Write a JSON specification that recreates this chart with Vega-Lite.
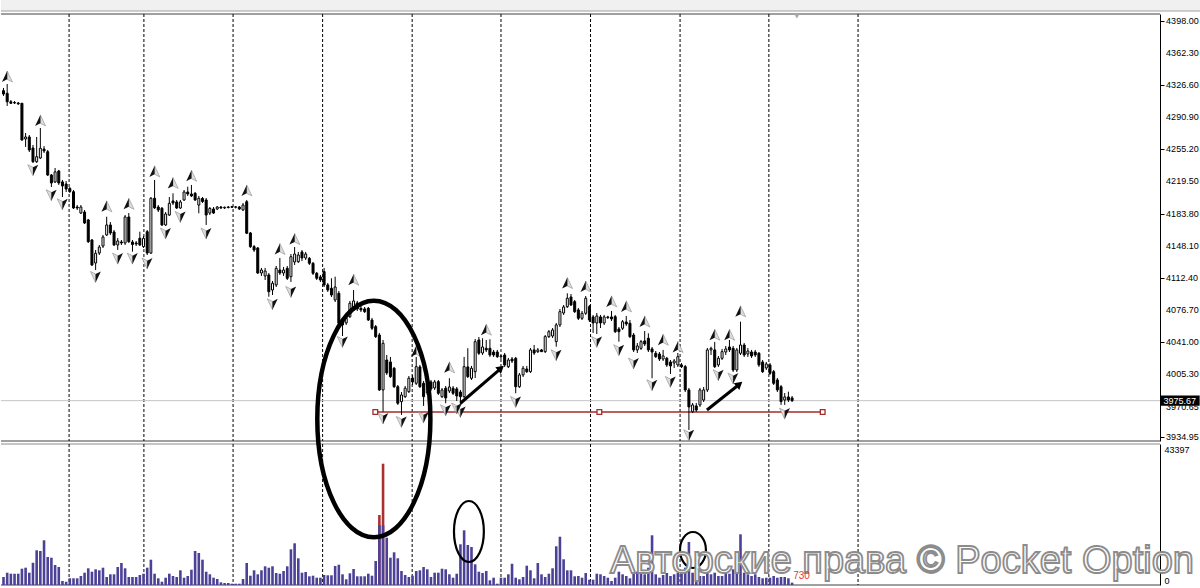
{
"$schema":"https://vega.github.io/schema/vega-lite/v6.json",
"padding":0,
"background":"white",
"spacing":3,
"bounds":"flush",
"config":{"view":{"stroke":null},"font":"Liberation Sans"},
"datasets":{
"bars":[
{"i":0,"o":4320.5,"h":4323.5,"l":4314.6,"c":4316.8,"v":2498},
{"i":1,"o":4317.6,"h":4327.9,"l":4303.5,"c":4308.2,"v":3840},
{"i":2,"o":4308.2,"h":4310.1,"l":4305.7,"c":4306.5,"v":3528},
{"i":3,"o":4307.3,"h":4309.0,"l":4305.7,"c":4306.8,"v":3528},
{"i":4,"o":4306.8,"h":4307.9,"l":4304.6,"c":4305.9,"v":3528},
{"i":5,"o":4306.5,"h":4306.8,"l":4265.1,"c":4265.6,"v":5089},
{"i":6,"o":4266.8,"h":4273.4,"l":4257.9,"c":4269.0,"v":5401},
{"i":7,"o":4269.0,"h":4271.2,"l":4252.3,"c":4254.5,"v":3840},
{"i":8,"o":4256.7,"h":4260.1,"l":4240.1,"c":4241.5,"v":6962},
{"i":9,"o":4241.5,"h":4269.0,"l":4240.1,"c":4247.1,"v":10833},
{"i":10,"o":4245.6,"h":4279.0,"l":4244.5,"c":4256.4,"v":10615},
{"i":11,"o":4255.6,"h":4258.9,"l":4251.2,"c":4253.4,"v":13955},
{"i":12,"o":4252.6,"h":4254.5,"l":4225.6,"c":4226.7,"v":8742},
{"i":13,"o":4226.7,"h":4227.8,"l":4213.4,"c":4217.8,"v":8523},
{"i":14,"o":4218.9,"h":4234.5,"l":4217.8,"c":4230.2,"v":6244},
{"i":15,"o":4231.2,"h":4232.3,"l":4215.6,"c":4217.8,"v":5620},
{"i":16,"o":4219.0,"h":4221.2,"l":4202.2,"c":4214.5,"v":1249},
{"i":17,"o":4216.7,"h":4220.0,"l":4207.8,"c":4211.1,"v":1030},
{"i":18,"o":4211.7,"h":4213.4,"l":4206.7,"c":4208.4,"v":2092},
{"i":19,"o":4208.1,"h":4210.0,"l":4188.9,"c":4190.0,"v":2092},
{"i":20,"o":4191.1,"h":4193.3,"l":4187.8,"c":4190.0,"v":2092},
{"i":21,"o":4184.4,"h":4193.3,"l":4183.3,"c":4191.1,"v":2810},
{"i":22,"o":4185.5,"h":4187.8,"l":4172.2,"c":4173.3,"v":3840},
{"i":23,"o":4176.7,"h":4177.8,"l":4151.1,"c":4152.5,"v":5214},
{"i":24,"o":4154.4,"h":4155.5,"l":4125.5,"c":4126.6,"v":4152},
{"i":25,"o":4128.8,"h":4143.3,"l":4121.0,"c":4139.6,"v":4902},
{"i":26,"o":4139.9,"h":4148.9,"l":4137.7,"c":4146.6,"v":4589},
{"i":27,"o":4147.7,"h":4160.0,"l":4145.5,"c":4157.7,"v":5401},
{"i":28,"o":4160.0,"h":4180.3,"l":4158.9,"c":4171.1,"v":2498},
{"i":29,"o":4171.1,"h":4174.4,"l":4160.0,"c":4162.2,"v":3341},
{"i":30,"o":4163.3,"h":4165.5,"l":4147.7,"c":4148.9,"v":3341},
{"i":31,"o":4148.9,"h":4156.6,"l":4143.3,"c":4153.3,"v":5620},
{"i":32,"o":4152.2,"h":4154.4,"l":4148.9,"c":4151.1,"v":6868},
{"i":33,"o":4151.1,"h":4182.2,"l":4148.9,"c":4180.0,"v":5214},
{"i":34,"o":4180.0,"h":4184.4,"l":4151.1,"c":4152.5,"v":2498},
{"i":35,"o":4152.2,"h":4154.4,"l":4141.4,"c":4149.4,"v":2498},
{"i":36,"o":4151.1,"h":4153.3,"l":4147.7,"c":4150.0,"v":2498},
{"i":37,"o":4156.3,"h":4163.6,"l":4147.7,"c":4148.9,"v":3122},
{"i":38,"o":4147.0,"h":4158.9,"l":4145.5,"c":4156.3,"v":3528},
{"i":39,"o":4163.6,"h":4165.5,"l":4137.7,"c":4139.9,"v":5401},
{"i":40,"o":4139.9,"h":4202.2,"l":4138.8,"c":4200.8,"v":7899},
{"i":41,"o":4200.8,"h":4221.2,"l":4188.9,"c":4190.2,"v":3528},
{"i":42,"o":4191.1,"h":4193.3,"l":4185.5,"c":4187.8,"v":2092},
{"i":43,"o":4189.7,"h":4191.1,"l":4170.0,"c":4171.1,"v":1030},
{"i":44,"o":4171.1,"h":4185.5,"l":4170.0,"c":4183.3,"v":2279},
{"i":45,"o":4182.2,"h":4202.2,"l":4181.1,"c":4195.2,"v":3528},
{"i":46,"o":4197.8,"h":4206.3,"l":4193.3,"c":4195.6,"v":2810},
{"i":47,"o":4196.7,"h":4198.9,"l":4188.9,"c":4190.0,"v":2498},
{"i":48,"o":4190.0,"h":4198.9,"l":4188.9,"c":4196.7,"v":4589},
{"i":49,"o":4198.9,"h":4210.0,"l":4197.8,"c":4207.8,"v":2279},
{"i":50,"o":4207.8,"h":4213.7,"l":4203.4,"c":4205.6,"v":2810},
{"i":51,"o":4205.6,"h":4215.6,"l":4202.2,"c":4203.4,"v":4777},
{"i":52,"o":4206.3,"h":4207.8,"l":4197.8,"c":4198.9,"v":10615},
{"i":53,"o":4193.3,"h":4203.4,"l":4184.1,"c":4200.8,"v":9990},
{"i":54,"o":4200.6,"h":4202.2,"l":4195.6,"c":4197.2,"v":7899},
{"i":55,"o":4198.9,"h":4201.1,"l":4171.1,"c":4182.2,"v":4152},
{"i":56,"o":4184.4,"h":4191.1,"l":4182.2,"c":4189.5,"v":3341},
{"i":57,"o":4188.9,"h":4191.1,"l":4183.3,"c":4184.4,"v":2279},
{"i":58,"o":4188.9,"h":4192.2,"l":4187.8,"c":4191.1,"v":1873},
{"i":59,"o":4191.1,"h":4192.2,"l":4188.9,"c":4190.0,"v":843},
{"i":60,"o":4190.0,"h":4191.6,"l":4188.9,"c":4190.8,"v":624},
{"i":61,"o":4191.1,"h":4192.2,"l":4189.5,"c":4190.6,"v":624},
{"i":62,"o":4191.5,"h":4192.2,"l":4190.0,"c":4190.8,"v":406},
{"i":63,"o":4190.8,"h":4192.2,"l":4189.5,"c":4191.3,"v":406},
{"i":64,"o":4191.1,"h":4192.2,"l":4187.8,"c":4188.9,"v":406},
{"i":65,"o":4187.8,"h":4195.6,"l":4186.7,"c":4193.3,"v":1873},
{"i":66,"o":4197.0,"h":4198.9,"l":4161.1,"c":4161.9,"v":6868},
{"i":67,"o":4162.2,"h":4163.3,"l":4145.5,"c":4147.0,"v":2903},
{"i":68,"o":4147.0,"h":4148.9,"l":4141.1,"c":4143.3,"v":4589},
{"i":69,"o":4145.5,"h":4146.6,"l":4116.6,"c":4117.7,"v":3341},
{"i":70,"o":4117.7,"h":4123.3,"l":4114.4,"c":4121.0,"v":4589},
{"i":71,"o":4114.4,"h":4123.3,"l":4109.9,"c":4119.9,"v":5838},
{"i":72,"o":4115.5,"h":4117.7,"l":4091.3,"c":4096.9,"v":5401},
{"i":73,"o":4098.8,"h":4108.8,"l":4093.2,"c":4106.3,"v":5838},
{"i":74,"o":4104.4,"h":4125.5,"l":4102.1,"c":4122.9,"v":3746},
{"i":75,"o":4121.0,"h":4134.4,"l":4115.5,"c":4117.7,"v":3528},
{"i":76,"o":4117.7,"h":4124.4,"l":4114.4,"c":4121.0,"v":4371},
{"i":77,"o":4122.9,"h":4125.5,"l":4109.9,"c":4111.8,"v":5838},
{"i":78,"o":4113.6,"h":4138.8,"l":4107.7,"c":4135.8,"v":11146},
{"i":79,"o":4130.0,"h":4146.6,"l":4126.6,"c":4138.8,"v":13019},
{"i":80,"o":4130.3,"h":4141.1,"l":4128.8,"c":4137.7,"v":8336},
{"i":81,"o":4141.1,"h":4143.3,"l":4131.0,"c":4134.4,"v":3840},
{"i":82,"o":4134.4,"h":4141.1,"l":4132.2,"c":4138.8,"v":4059},
{"i":83,"o":4134.0,"h":4135.5,"l":4126.6,"c":4128.5,"v":2716},
{"i":84,"o":4128.5,"h":4129.9,"l":4115.5,"c":4117.4,"v":2903},
{"i":85,"o":4117.4,"h":4118.8,"l":4109.9,"c":4111.8,"v":2279},
{"i":86,"o":4113.3,"h":4115.5,"l":4107.7,"c":4109.9,"v":2279},
{"i":87,"o":4119.2,"h":4123.3,"l":4102.1,"c":4104.4,"v":3122},
{"i":88,"o":4104.4,"h":4106.6,"l":4096.6,"c":4098.8,"v":3028},
{"i":89,"o":4100.7,"h":4111.8,"l":4091.0,"c":4093.2,"v":3028},
{"i":90,"o":4087.7,"h":4113.6,"l":4085.4,"c":4102.1,"v":5932},
{"i":91,"o":4095.1,"h":4097.7,"l":4059.9,"c":4061.8,"v":6338},
{"i":92,"o":4064.3,"h":4067.7,"l":4047.6,"c":4059.9,"v":3341},
{"i":93,"o":4062.1,"h":4069.9,"l":4059.9,"c":4067.3,"v":1780},
{"i":94,"o":4069.1,"h":4086.6,"l":4067.7,"c":4084.0,"v":3653},
{"i":95,"o":4076.6,"h":4098.8,"l":4075.4,"c":4086.6,"v":4995},
{"i":96,"o":4084.3,"h":4086.6,"l":4075.4,"c":4077.7,"v":2716},
{"i":97,"o":4078.4,"h":4081.0,"l":4074.3,"c":4076.6,"v":2716},
{"i":98,"o":4077.7,"h":4079.9,"l":4073.2,"c":4074.7,"v":2716},
{"i":99,"o":4078.4,"h":4079.9,"l":4064.3,"c":4065.4,"v":3528},
{"i":100,"o":4065.4,"h":4067.7,"l":4054.3,"c":4056.2,"v":2903},
{"i":101,"o":4058.0,"h":4059.9,"l":4045.4,"c":4046.9,"v":7493},
{"i":102,"o":4048.7,"h":4051.0,"l":3986.4,"c":3987.6,"v":18638},
{"i":103,"o":3987.6,"h":4043.2,"l":3963.4,"c":4039.5,"v":18638},
{"i":104,"o":4020.9,"h":4026.5,"l":4004.3,"c":4006.5,"v":14767},
{"i":105,"o":4018.7,"h":4024.3,"l":4000.9,"c":4002.4,"v":8523},
{"i":106,"o":4011.7,"h":4013.2,"l":3989.8,"c":3991.2,"v":10209},
{"i":107,"o":3991.2,"h":3993.1,"l":3970.9,"c":3972.8,"v":8336},
{"i":108,"o":3974.6,"h":3985.3,"l":3959.8,"c":3982.0,"v":4371},
{"i":109,"o":3980.1,"h":3992.0,"l":3978.7,"c":3989.5,"v":3122},
{"i":110,"o":3985.7,"h":4003.1,"l":3984.2,"c":4000.6,"v":2498},
{"i":111,"o":4000.9,"h":4004.3,"l":3993.1,"c":3996.5,"v":2903},
{"i":112,"o":3995.0,"h":4024.3,"l":3993.1,"c":4013.5,"v":4371},
{"i":113,"o":4013.2,"h":4015.4,"l":3989.8,"c":3991.2,"v":4589},
{"i":114,"o":3995.0,"h":3997.6,"l":3969.8,"c":3980.1,"v":5620},
{"i":115,"o":3984.2,"h":3997.6,"l":3982.0,"c":3994.2,"v":4902},
{"i":116,"o":3996.5,"h":3998.7,"l":3986.4,"c":3988.7,"v":2498},
{"i":117,"o":3989.8,"h":3998.7,"l":3987.6,"c":3996.5,"v":3840},
{"i":118,"o":3996.8,"h":3998.7,"l":3982.0,"c":3983.9,"v":3840},
{"i":119,"o":3980.1,"h":3989.8,"l":3978.7,"c":3987.6,"v":5089},
{"i":120,"o":3989.5,"h":3992.0,"l":3972.8,"c":3978.7,"v":4902},
{"i":121,"o":3986.4,"h":4000.6,"l":3984.2,"c":3990.9,"v":3341},
{"i":122,"o":3989.5,"h":3992.0,"l":3982.0,"c":3983.9,"v":2279},
{"i":123,"o":3988.7,"h":3990.9,"l":3975.3,"c":3980.9,"v":3528},
{"i":124,"o":3985.3,"h":3987.6,"l":3972.0,"c":3980.1,"v":12707},
{"i":125,"o":3980.1,"h":4024.3,"l":3978.7,"c":4013.5,"v":17077},
{"i":126,"o":4013.2,"h":4034.0,"l":4000.9,"c":4002.4,"v":12488},
{"i":127,"o":4000.6,"h":4014.3,"l":3998.7,"c":4011.7,"v":11864},
{"i":128,"o":4007.9,"h":4044.3,"l":4000.9,"c":4041.3,"v":6463},
{"i":129,"o":4043.2,"h":4046.5,"l":4026.5,"c":4028.4,"v":4152},
{"i":130,"o":4028.7,"h":4045.1,"l":4026.5,"c":4035.4,"v":3746},
{"i":131,"o":4033.9,"h":4043.2,"l":4029.8,"c":4032.1,"v":4371},
{"i":132,"o":4033.9,"h":4044.0,"l":4024.3,"c":4026.5,"v":1467},
{"i":133,"o":4029.8,"h":4032.1,"l":4024.3,"c":4026.5,"v":2279},
{"i":134,"o":4029.8,"h":4032.1,"l":4023.2,"c":4024.6,"v":406},
{"i":135,"o":4024.6,"h":4026.5,"l":4022.0,"c":4025.4,"v":2279},
{"i":136,"o":4026.5,"h":4028.7,"l":4013.2,"c":4015.4,"v":2279},
{"i":137,"o":4013.5,"h":4023.2,"l":4012.0,"c":4020.9,"v":3341},
{"i":138,"o":4022.0,"h":4024.3,"l":4017.6,"c":4019.8,"v":6650},
{"i":139,"o":4022.8,"h":4024.3,"l":3983.9,"c":3991.2,"v":2279},
{"i":140,"o":3991.2,"h":4006.5,"l":3989.8,"c":4004.3,"v":1780},
{"i":141,"o":4004.3,"h":4014.3,"l":4002.0,"c":4011.7,"v":2498},
{"i":142,"o":4010.9,"h":4014.3,"l":4006.5,"c":4007.9,"v":6025},
{"i":143,"o":4007.9,"h":4034.3,"l":4006.5,"c":4032.1,"v":4589},
{"i":144,"o":4032.1,"h":4037.6,"l":4026.5,"c":4028.7,"v":2092},
{"i":145,"o":4030.2,"h":4034.3,"l":4028.7,"c":4032.1,"v":6868},
{"i":146,"o":4032.1,"h":4033.2,"l":4029.8,"c":4030.2,"v":3341},
{"i":147,"o":4030.2,"h":4048.7,"l":4028.7,"c":4046.9,"v":2498},
{"i":148,"o":4046.9,"h":4054.3,"l":4045.4,"c":4052.4,"v":3528},
{"i":149,"o":4047.6,"h":4056.5,"l":4045.4,"c":4054.3,"v":5214},
{"i":150,"o":4041.3,"h":4062.1,"l":4035.7,"c":4059.9,"v":12082},
{"i":151,"o":4059.9,"h":4077.7,"l":4057.6,"c":4074.7,"v":15080},
{"i":152,"o":4073.2,"h":4082.1,"l":4071.0,"c":4079.9,"v":8024},
{"i":153,"o":4080.2,"h":4095.1,"l":4078.8,"c":4089.6,"v":4589},
{"i":154,"o":4091.0,"h":4094.3,"l":4081.0,"c":4082.1,"v":4589},
{"i":155,"o":4085.8,"h":4087.7,"l":4073.2,"c":4074.7,"v":2716},
{"i":156,"o":4076.6,"h":4078.8,"l":4065.4,"c":4067.3,"v":2810},
{"i":157,"o":4067.3,"h":4075.4,"l":4065.4,"c":4072.9,"v":2279},
{"i":158,"o":4072.9,"h":4092.1,"l":4071.0,"c":4089.6,"v":3746},
{"i":159,"o":4080.2,"h":4082.1,"l":4063.2,"c":4065.4,"v":1655},
{"i":160,"o":4068.8,"h":4071.0,"l":4051.0,"c":4062.1,"v":1655},
{"i":161,"o":4062.1,"h":4073.2,"l":4049.8,"c":4069.9,"v":3528},
{"i":162,"o":4068.8,"h":4071.0,"l":4056.5,"c":4062.1,"v":3341},
{"i":163,"o":4062.1,"h":4071.0,"l":4059.9,"c":4068.8,"v":2810},
{"i":164,"o":4068.8,"h":4070.0,"l":4066.6,"c":4068.0,"v":2279},
{"i":165,"o":4068.8,"h":4075.4,"l":4064.3,"c":4066.6,"v":1249},
{"i":166,"o":4069.1,"h":4071.0,"l":4051.0,"c":4052.4,"v":2279},
{"i":167,"o":4055.4,"h":4057.6,"l":4041.3,"c":4052.4,"v":4152},
{"i":168,"o":4056.2,"h":4065.4,"l":4054.3,"c":4063.5,"v":3341},
{"i":169,"o":4063.2,"h":4069.9,"l":4058.8,"c":4061.0,"v":2810},
{"i":170,"o":4061.8,"h":4065.4,"l":4045.4,"c":4046.9,"v":2092},
{"i":171,"o":4048.7,"h":4051.0,"l":4029.8,"c":4032.1,"v":3840},
{"i":172,"o":4032.1,"h":4039.8,"l":4028.7,"c":4036.5,"v":4152},
{"i":173,"o":4033.9,"h":4043.2,"l":4032.1,"c":4041.3,"v":3528},
{"i":174,"o":4042.1,"h":4053.2,"l":4036.5,"c":4038.7,"v":3341},
{"i":175,"o":4045.1,"h":4050.6,"l":4029.8,"c":4032.1,"v":5401},
{"i":176,"o":4033.2,"h":4035.4,"l":4000.6,"c":4029.8,"v":15516},
{"i":177,"o":4028.4,"h":4030.9,"l":4023.2,"c":4024.6,"v":3341},
{"i":178,"o":4027.6,"h":4029.8,"l":4019.8,"c":4022.0,"v":2279},
{"i":179,"o":4022.0,"h":4032.1,"l":4019.8,"c":4025.4,"v":3122},
{"i":180,"o":4022.8,"h":4024.3,"l":4013.2,"c":4015.4,"v":3746},
{"i":181,"o":4018.7,"h":4020.9,"l":4005.4,"c":4014.3,"v":2810},
{"i":182,"o":4017.6,"h":4022.0,"l":4012.0,"c":4019.8,"v":3341},
{"i":183,"o":4015.4,"h":4028.7,"l":4013.2,"c":4024.6,"v":3840},
{"i":184,"o":4015.4,"h":4017.6,"l":4012.0,"c":4013.5,"v":4152},
{"i":185,"o":4013.5,"h":4015.4,"l":3985.3,"c":3987.6,"v":5401},
{"i":186,"o":3987.6,"h":3989.8,"l":3943.1,"c":3968.7,"v":13425},
{"i":187,"o":3963.4,"h":3973.1,"l":3962.0,"c":3970.9,"v":3840},
{"i":188,"o":3969.8,"h":3973.1,"l":3963.1,"c":3965.3,"v":3341},
{"i":189,"o":3970.9,"h":3989.8,"l":3968.7,"c":3987.6,"v":2810},
{"i":190,"o":3976.4,"h":3990.9,"l":3974.2,"c":3987.6,"v":2810},
{"i":191,"o":3987.6,"h":4034.3,"l":3985.3,"c":4032.1,"v":4371},
{"i":192,"o":4032.1,"h":4035.7,"l":4026.5,"c":4033.9,"v":3341},
{"i":193,"o":4032.1,"h":4041.0,"l":4012.0,"c":4013.5,"v":3840},
{"i":194,"o":4015.4,"h":4025.4,"l":4013.2,"c":4022.8,"v":2810},
{"i":195,"o":4022.8,"h":4033.2,"l":4020.9,"c":4030.2,"v":2810},
{"i":196,"o":4029.8,"h":4036.5,"l":4026.5,"c":4033.2,"v":4371},
{"i":197,"o":4035.4,"h":4043.2,"l":4029.8,"c":4032.1,"v":3528},
{"i":198,"o":4033.9,"h":4036.5,"l":4007.6,"c":4009.8,"v":4902},
{"i":199,"o":4009.8,"h":4034.3,"l":4007.6,"c":4032.1,"v":9054},
{"i":200,"o":4028.4,"h":4063.5,"l":4026.5,"c":4037.6,"v":15829},
{"i":201,"o":4037.6,"h":4039.8,"l":4024.3,"c":4026.5,"v":3840},
{"i":202,"o":4027.6,"h":4034.3,"l":4024.3,"c":4030.9,"v":3341},
{"i":203,"o":4029.8,"h":4032.1,"l":4023.2,"c":4025.4,"v":2810},
{"i":204,"o":4029.8,"h":4032.1,"l":4024.3,"c":4026.5,"v":3341},
{"i":205,"o":4028.4,"h":4029.8,"l":4013.2,"c":4015.4,"v":2498},
{"i":206,"o":4018.7,"h":4020.9,"l":4006.5,"c":4007.9,"v":2092},
{"i":207,"o":4012.0,"h":4018.7,"l":4009.8,"c":4016.5,"v":2279},
{"i":208,"o":4015.4,"h":4017.6,"l":4004.3,"c":4006.1,"v":2279},
{"i":209,"o":4007.9,"h":4009.8,"l":3993.1,"c":3995.0,"v":2810},
{"i":210,"o":3998.7,"h":4000.9,"l":3985.3,"c":3987.6,"v":2279},
{"i":211,"o":3991.2,"h":3993.1,"l":3970.9,"c":3974.6,"v":2498},
{"i":212,"o":3976.4,"h":3984.2,"l":3970.9,"c":3979.8,"v":2498},
{"i":213,"o":3979.8,"h":3985.7,"l":3974.2,"c":3976.4,"v":2092},
{"i":214,"o":3978.7,"h":3980.9,"l":3974.2,"c":3975.67,"v":730}
],
"redvol":[{"i":102,"v":21854},{"i":103,"v":37870}],
"grid":[{"i":17.8},{"i":38.1},{"i":62.3},{"i":86.6},{"i":110.9},{"i":135.0},{"i":159.3},{"i":183.6},{"i":207.7},{"i":231.9}],
"fu":[{"i":1,"p":4336.0},{"i":10,"p":4287.1},{"i":28,"p":4191.5},{"i":34,"p":4194.4},{"i":41,"p":4230.4},{"i":46,"p":4217.5},{"i":51,"p":4225.6},{"i":66,"p":4209.2},{"i":75,"p":4144.1},{"i":79,"p":4155.2},{"i":95,"p":4109.9},{"i":112,"p":4030.2},{"i":121,"p":4012.4},{"i":131,"p":4054.3},{"i":153,"p":4106.2},{"i":158,"p":4102.4},{"i":165,"p":4085.8},{"i":169,"p":4080.2},{"i":174,"p":4063.5},{"i":179,"p":4043.2},{"i":183,"p":4035.1},{"i":193,"p":4048.7},{"i":197,"p":4048.7},{"i":200,"p":4074.7}],
"fd":[{"i":8,"p":4232.3},{"i":13,"p":4204.5},{"i":16,"p":4194.4},{"i":25,"p":4113.6},{"i":31,"p":4134.0},{"i":35,"p":4134.0},{"i":39,"p":4128.5},{"i":44,"p":4161.9},{"i":48,"p":4180.3},{"i":55,"p":4161.9},{"i":73,"p":4083.2},{"i":78,"p":4096.9},{"i":92,"p":4041.3},{"i":103,"p":3956.1},{"i":108,"p":3952.3},{"i":114,"p":3957.2},{"i":120,"p":3965.3},{"i":123,"p":3967.2},{"i":124,"p":3963.4},{"i":139,"p":3974.6},{"i":150,"p":4026.5},{"i":161,"p":4041.3},{"i":167,"p":4032.1},{"i":171,"p":4017.3},{"i":176,"p":3993.1},{"i":181,"p":3996.8},{"i":186,"p":3937.5},{"i":194,"p":4004.3},{"i":198,"p":4000.6},{"i":212,"p":3961.6}],
"arr":[{"i1":124.0,"p1":3972.8,"i2":135.0,"p2":4011.7},{"i1":190.9,"p1":3965.3,"i2":199.7,"p2":3993.9}],
"hline":[{"i1":100.9,"i2":222.3,"p":3963.1}],
"hsq":[{"i":100.9,"p":3963.1},{"i":161.7,"p":3963.1},{"i":222.3,"p":3963.1}],
"plab":[{"p":4398,"t":"4398.00"},{"p":4362.3,"t":"4362.30"},{"p":4326.6,"t":"4326.60"},{"p":4290.9,"t":"4290.90"},{"p":4255.2,"t":"4255.20"},{"p":4219.5,"t":"4219.50"},{"p":4183.8,"t":"4183.80"},{"p":4148.1,"t":"4148.10"},{"p":4112.4,"t":"4112.40"},{"p":4076.7,"t":"4076.70"},{"p":4041,"t":"4041.00"},{"p":4005.3,"t":"4005.30"},{"p":3968.4,"t":"3970.65"},{"p":3934.95,"t":"3934.95"}]
},
"vconcat":[
{
"width":1200,"height":11,
"view":{"fill":"#f0f0f0","stroke":null},
"data":{"values":[{"k":0}]},
"mark":{"type":"rule","color":"#a0a0a0","strokeWidth":1},
"encoding":{"y":{"datum":0,"type":"quantitative","scale":{"domain":[0,11]},"axis":null}}
},
{
"width":1159,"height":427,
"layer":[
{"data":{"values":[{"p":4405.8},{"p":3930.8}]},"mark":{"type":"rule","color":"#404040","strokeWidth":1},
 "encoding":{"y":{"field":"p","type":"quantitative","scale":{"domain":[3930.8,4405.8],"nice":false,"zero":false,"padding":0},"axis":{"orient":"right","values":[4398,4362.3,4326.6,4290.9,4255.2,4219.5,4183.8,4148.1,4112.4,4076.7,4041,4005.3,3934.95],"labels":false,"tickColor":"#000","tickSize":4,"domainColor":"#000","domainWidth":1,"grid":false,"title":null}}}},
{"data":{"name":"grid"},"mark":{"type":"rule","color":"#000","strokeDash":[3,2],"strokeWidth":1},
 "encoding":{"x":{"field":"i","type":"quantitative","scale":{"domain":[-0.678,313.84],"nice":false,"zero":false,"padding":0},"axis":null}}},
{"data":{"values":[{"p":3975.67}]},"mark":{"type":"rule","color":"#c4c4c4","strokeWidth":1},
 "encoding":{"y":{"field":"p","type":"quantitative"}}},
{"data":{"name":"hline"},"mark":{"type":"rule","color":"#a52a2a","strokeWidth":1.6},
 "encoding":{"x":{"field":"i1","type":"quantitative","axis":null},"x2":{"field":"i2"},"y":{"field":"p","type":"quantitative"}}},
{"data":{"name":"hsq"},"mark":{"type":"point","shape":"square","size":22,"filled":true,"fill":"white","stroke":"#a52a2a","strokeWidth":1.3,"opacity":1},
 "encoding":{"x":{"field":"i","type":"quantitative","axis":null},"y":{"field":"p","type":"quantitative"}}},
{"data":{"name":"bars"},"mark":{"type":"rule","color":"#000","strokeWidth":1},
 "encoding":{"x":{"field":"i","type":"quantitative","axis":null},"y":{"field":"l","type":"quantitative"},"y2":{"field":"h"}}},
{"data":{"name":"bars"},"mark":{"type":"bar","width":2,"stroke":"#000","strokeWidth":1},
 "encoding":{"x":{"field":"i","type":"quantitative","axis":null},"y":{"field":"o","type":"quantitative"},"y2":{"field":"c"},
  "fill":{"condition":{"test":"datum.c > datum.o","value":"#ffffff"},"value":"#000000"}}},
{"data":{"name":"fu"},"mark":{"type":"point","shape":"M0,-1L0.9,0.9L0,0.45Z","size":135,"filled":true,"fill":"#dedede","stroke":"#8a8a8a","strokeWidth":0.6,"opacity":1},
 "encoding":{"x":{"field":"i","type":"quantitative","axis":null},"y":{"field":"p","type":"quantitative"}}},
{"data":{"name":"fu"},"mark":{"type":"point","shape":"M0,-1L0,0.45L-0.9,0.9Z","size":135,"filled":true,"fill":"#111111","strokeWidth":0,"opacity":1},
 "encoding":{"x":{"field":"i","type":"quantitative","axis":null},"y":{"field":"p","type":"quantitative"}}},
{"data":{"name":"fd"},"mark":{"type":"point","shape":"M0,1L-0.9,-0.9L0,-0.45Z","size":135,"filled":true,"fill":"#dedede","stroke":"#8a8a8a","strokeWidth":0.6,"opacity":1},
 "encoding":{"x":{"field":"i","type":"quantitative","axis":null},"y":{"field":"p","type":"quantitative"}}},
{"data":{"name":"fd"},"mark":{"type":"point","shape":"M0,1L0,-0.45L0.9,-0.9Z","size":135,"filled":true,"fill":"#111111","strokeWidth":0,"opacity":1},
 "encoding":{"x":{"field":"i","type":"quantitative","axis":null},"y":{"field":"p","type":"quantitative"}}},
{"data":{"name":"arr"},"mark":{"type":"rule","color":"#000","strokeWidth":3},
 "encoding":{"x":{"field":"i1","type":"quantitative","axis":null},"x2":{"field":"i2"},"y":{"field":"p1","type":"quantitative"},"y2":{"field":"p2"}}},
{"data":{"name":"arr"},"mark":{"type":"point","shape":"triangle-up","angle":50,"size":75,"filled":true,"color":"#000","opacity":1},
 "encoding":{"x":{"field":"i2","type":"quantitative","axis":null},"y":{"field":"p2","type":"quantitative"}}},
{"data":{"name":"plab"},"mark":{"type":"text","font":"Liberation Sans","fontSize":9,"color":"#000","align":"left","baseline":"middle"},
 "encoding":{"x":{"datum":315.5,"type":"quantitative","axis":null},"y":{"field":"p","type":"quantitative"},"text":{"field":"t"}}},
{"data":{"values":[{"i1":313.9,"i2":324.6,"p1":3981.3,"p2":3970.0}]},"mark":{"type":"rect","color":"#000"},
 "encoding":{"x":{"field":"i1","type":"quantitative","axis":null},"x2":{"field":"i2"},"y":{"field":"p1","type":"quantitative"},"y2":{"field":"p2"}}},
{"data":{"values":[{"i":319.2,"p":3975.67,"t":"3975.67"}]},"mark":{"type":"text","color":"#fff","fontSize":9,"font":"Liberation Sans","align":"center","baseline":"middle"},
 "encoding":{"x":{"field":"i","type":"quantitative","axis":null},"y":{"field":"p","type":"quantitative"},"text":{"field":"t"}}},
{"data":{"values":[{"i":215.3,"p":4403.6}]},"mark":{"type":"point","shape":"triangle-down","size":35,"filled":true,"color":"#a8a8a8","opacity":1},
 "encoding":{"x":{"field":"i","type":"quantitative","axis":null},"y":{"field":"p","type":"quantitative"}}}
]
},
{
"width":1159,"height":141,
"layer":[
{"data":{"values":[{"v":44020,"k":"t"},{"v":0,"k":"b"}]},"mark":{"type":"rule","strokeWidth":1},
 "encoding":{"y":{"field":"v","type":"quantitative","scale":{"domain":[0,44020],"nice":false,"padding":0},"axis":{"orient":"right","values":[0,43397],"format":"d","labelFont":"Liberation Sans","labelFontSize":9,"labelColor":"#000","ticks":false,"domainColor":"#000","labelPadding":4,"grid":false,"title":null,"labelOverlap":false,"labelFlush":false,"labelBound":false,"labelBaseline":{"expr":"datum.value > 0 ? 'top' : 'bottom'"}}},
  "color":{"field":"k","type":"nominal","scale":{"domain":["t","b"],"range":["#8c8c8c","#404040"]},"legend":null}}},
{"data":{"name":"grid"},"mark":{"type":"rule","color":"#000","strokeDash":[3,2],"strokeWidth":1},
 "encoding":{"x":{"field":"i","type":"quantitative","scale":{"domain":[-0.678,313.84],"nice":false,"zero":false,"padding":0},"axis":null}}},
{"data":{"name":"redvol"},"mark":{"type":"bar","width":2.6,"color":"#a83232"},
 "encoding":{"x":{"field":"i","type":"quantitative","axis":null},"y":{"field":"v","type":"quantitative"}}},
{"data":{"name":"bars"},"mark":{"type":"bar","width":2.6,"color":"#4b4196"},
 "encoding":{"x":{"field":"i","type":"quantitative","axis":null},"y":{"field":"v","type":"quantitative"}}},
{"data":{"values":[{"i":100.5,"v":51825}]},"mark":{"type":"point","shape":"M -0.478 0 A 0.478 1 0 0 1 0.478 0 A 0.478 1 0 0 1 -0.478 0 Z","size":55980,"filled":false,"color":"#000","strokeWidth":4.5,"opacity":1},
 "encoding":{"x":{"field":"i","type":"quantitative","axis":null},"y":{"field":"v","type":"quantitative"}}},
{"data":{"values":[{"i":126.3,"v":16703}]},"mark":{"type":"point","shape":"M -0.49 0 A 0.49 1 0 0 1 0.49 0 A 0.49 1 0 0 1 -0.49 0 Z","size":3721,"filled":false,"color":"#000","strokeWidth":2.2,"opacity":1},
 "encoding":{"x":{"field":"i","type":"quantitative","axis":null},"y":{"field":"v","type":"quantitative"}}},
{"data":{"values":[{"i":187.1,"v":10927}]},"mark":{"type":"point","shape":"M -0.72 0 A 0.72 1 0 0 1 0.72 0 A 0.72 1 0 0 1 -0.72 0 Z","size":1296,"filled":false,"color":"#000","strokeWidth":2.2,"opacity":1},
 "encoding":{"x":{"field":"i","type":"quantitative","axis":null},"y":{"field":"v","type":"quantitative"}}},
{"data":{"values":[{"i":243.8,"v":7181,"t":"Авторские права © Pocket Option"}]},"mark":{"type":"text","font":"Liberation Sans","fontSize":38,"fill":"#ffffff","stroke":"#8c8c8c","strokeWidth":1.8,"align":"center","baseline":"middle"},
 "encoding":{"x":{"field":"i","type":"quantitative","axis":null},"y":{"field":"v","type":"quantitative"},"text":{"field":"t"}}},
{"data":{"values":[{"i":214.3,"v":2810,"t":"730"}]},"mark":{"type":"text","font":"Liberation Sans","fontSize":10,"color":"#e23a3a","align":"left","baseline":"middle","dx":0},
 "encoding":{"x":{"field":"i","type":"quantitative","axis":null},"y":{"field":"v","type":"quantitative"},"text":{"field":"t"}}}
]
}
]
}
